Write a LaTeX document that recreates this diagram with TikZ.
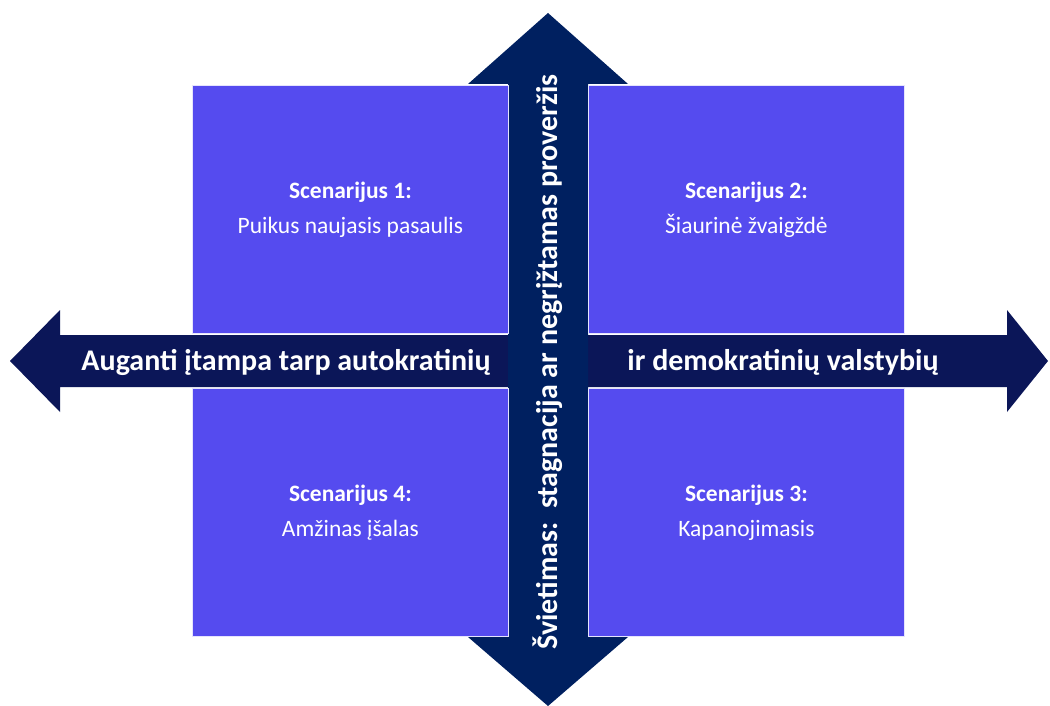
\documentclass[tikz,border=0pt]{standalone}
\usepackage{fontspec}
\setmainfont{Carlito}
\begin{document}
\begin{tikzpicture}[x=1pt,y=-1pt,
  box/.style={fill=boxblue,draw=white!85!boxblue,line width=0.8pt},
  boxtext/.style={text=white,align=center,font=\fontsize{23.5}{35}\selectfont},
  axtext/.style={text=white,font=\bfseries\fontsize{30}{32}\selectfont}]
\definecolor{boxblue}{HTML}{554BEF}
\definecolor{hnavy}{HTML}{0B1658}
\definecolor{vnavy}{HTML}{002060}
\useasboundingbox (0,0) rectangle (1050,706);
% horizontal arrow
\fill[hnavy] (10,361) -- (60,310) -- (60,335) -- (1007,335) -- (1007,310) -- (1048,361)
  -- (1007,412) -- (1007,387) -- (60,387) -- (60,412) -- cycle;
% vertical arrow
\fill[vnavy] (548,13) -- (628,84) -- (588,84) -- (588,637) -- (628,637) -- (548,706)
  -- (468,637) -- (508,637) -- (508,84) -- (468,84) -- cycle;
% boxes
\node[box,minimum width=316,minimum height=248,inner sep=0,anchor=north west] (b1) at (192,85) {};
\node[box,minimum width=316,minimum height=248,inner sep=0,anchor=north west] (b2) at (588,85) {};
\node[box,minimum width=316,minimum height=248,inner sep=0,anchor=north west] (b4) at (192,388) {};
\node[box,minimum width=316,minimum height=248,inner sep=0,anchor=north west] (b3) at (588,388) {};
\node[boxtext] (t1) at (b1.center) {\textbf{Scenarijus 1:}\\Puikus naujasis pasaulis};
\node[boxtext] (t2) at (b2.center) {\textbf{Scenarijus 2:}\\Šiaurinė žvaigždė};
\node[boxtext] (t4) at (b4.center) {\textbf{Scenarijus 4:}\\Amžinas įšalas};
\node[boxtext] (t3) at (b3.center) {\textbf{Scenarijus 3:}\\Kapanojimasis};
% axis labels
\node[axtext] (hl) at (286,362) {Auganti įtampa tarp autokratinių};
\node[axtext] (hr) at (783,362) {ir demokratinių valstybių};
\node[axtext,rotate=90] (vl) at (548,362) {Švietimas:\ \ stagnacija ar negrįžtamas proveržis};
\end{tikzpicture}
\end{document}
